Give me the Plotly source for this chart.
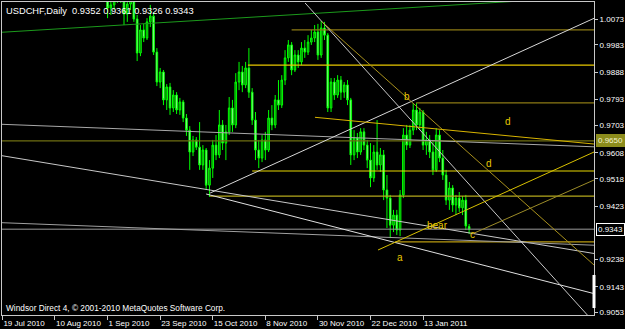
import plotly.graph_objects as go

header_text = "USDCHF,Daily  0.9352 0.9361 0.9326 0.9343"
copyright_text = "Windsor Direct 4, \u00a9 2001-2010 MetaQuotes Software Corp."

# ---- daily bars (bar index 0 = 19 Jul 2010) ----
opens = [1.0410,1.0452,1.0518,1.0541,1.0466,1.0428,1.0398,1.0468,1.0489,1.0455,1.0436,1.0372,1.0351,1.0438,1.0412,1.0368,
         1.0427,1.0488,1.0562,1.0503,1.0446,1.0382,1.0343,1.0291,1.0214,1.0242,1.0189,1.0263,1.0236,1.0271,1.0247,1.0203,
         1.0165,1.0111,1.0122,1.0139,1.0167,1.0149,1.0090,1.0125,1.0146,1.0073,0.9955,1.0035,1.0007,1.0063,1.0083,0.9958,
         0.9854,0.9889,0.9792,0.9837,0.9764,0.9809,0.9757,0.9785,0.9729,0.9687,0.9611,0.9653,0.9628,0.9566,0.9618,0.9496,
         0.9555,0.9635,0.9601,0.9705,0.9642,0.9681,0.9764,0.9705,0.9854,0.9889,0.9844,0.9903,0.9819,0.9722,0.9618,0.9590,
         0.9653,0.9618,0.9729,0.9705,0.9792,0.9774,0.9861,0.9938,0.9983,0.9896,0.9948,0.9924,0.9972,0.9958,0.9993,1.0007,
         1.0028,0.9948,1.0042,1.0017,0.9764,0.9854,0.9809,0.9861,0.9819,0.9844,0.9792,0.9601,0.9660,0.9611,0.9681,0.9635,
         0.9583,0.9521,0.9611,0.9566,0.9601,0.9479,0.9451,0.9357,0.9392,0.9340,0.9462,0.9670,0.9635,0.9687,0.9757,0.9705,
         0.9750,0.9635,0.9653,0.9611,0.9549,0.9670,0.9590,0.9531,0.9444,0.9486,0.9427,0.9451,0.9417,0.9444,0.9352]
highs = [1.0465,1.0530,1.0575,1.0560,1.0480,1.0440,1.0480,1.0505,1.0500,1.0470,1.0450,1.0390,1.0450,1.0450,1.0420,1.0440,
         1.0500,1.0590,1.0580,1.0520,1.0460,1.0400,1.0355,1.0300,1.0260,1.0250,1.0275,1.0280,1.0290,1.0285,1.0260,1.0215,
         1.0180,1.0139,1.0167,1.0191,1.0181,1.0160,1.0146,1.0167,1.0160,1.0087,1.0052,1.0056,1.0076,1.0122,1.0097,0.9972,
         0.9903,0.9896,0.9847,0.9851,0.9826,0.9819,0.9799,0.9792,0.9743,0.9701,0.9667,0.9663,0.9715,0.9635,0.9625,0.9583,
         0.9653,0.9670,0.9757,0.9722,0.9705,0.9802,0.9792,0.9885,0.9924,0.9910,0.9924,0.9972,0.9833,0.9750,0.9653,0.9670,
         0.9681,0.9757,0.9774,0.9809,0.9861,0.9878,0.9965,1.0000,0.9993,0.9965,0.9965,0.9993,1.0000,1.0017,1.0035,1.0052,
         1.0056,1.0066,1.0063,1.0024,0.9868,0.9868,0.9878,0.9875,0.9854,0.9861,0.9799,0.9687,0.9677,0.9694,0.9694,0.9653,
         0.9642,0.9635,0.9722,0.9625,0.9618,0.9531,0.9462,0.9410,0.9410,0.9479,0.9694,0.9705,0.9705,0.9781,0.9781,0.9764,
         0.9757,0.9681,0.9670,0.9653,0.9694,0.9687,0.9618,0.9549,0.9507,0.9496,0.9462,0.9472,0.9458,0.9462,0.9361]
lows = [1.0395,1.0440,1.0500,1.0450,1.0415,1.0380,1.0390,1.0455,1.0440,1.0425,1.0360,1.0335,1.0340,1.0400,1.0355,1.0360,
        1.0420,1.0480,1.0490,1.0430,1.0370,1.0330,1.0280,1.0200,1.0205,1.0175,1.0180,1.0225,1.0230,1.0235,1.0195,1.0145,
        1.0076,1.0087,1.0104,1.0129,1.0129,1.0052,1.0063,1.0104,1.0063,0.9927,0.9944,0.9993,1.0000,1.0045,0.9948,0.9840,
        0.9833,0.9774,0.9757,0.9740,0.9750,0.9743,0.9740,0.9715,0.9667,0.9549,0.9597,0.9618,0.9549,0.9549,0.9479,0.9455,
        0.9521,0.9583,0.9590,0.9618,0.9583,0.9670,0.9681,0.9694,0.9826,0.9819,0.9833,0.9799,0.9705,0.9583,0.9555,0.9576,
        0.9583,0.9611,0.9687,0.9694,0.9757,0.9764,0.9844,0.9924,0.9878,0.9889,0.9903,0.9913,0.9938,0.9948,0.9983,0.9993,
        0.9931,0.9938,1.0000,0.9750,0.9750,0.9792,0.9799,0.9792,0.9799,0.9774,0.9566,0.9583,0.9590,0.9601,0.9618,0.9555,
        0.9489,0.9507,0.9549,0.9542,0.9444,0.9347,0.9312,0.9333,0.9323,0.9319,0.9451,0.9618,0.9625,0.9670,0.9687,0.9687,
        0.9618,0.9601,0.9590,0.9531,0.9542,0.9576,0.9514,0.9427,0.9410,0.9403,0.9392,0.9403,0.9392,0.9340,0.9326]
closes = [1.0452,1.0518,1.0541,1.0466,1.0428,1.0398,1.0468,1.0489,1.0455,1.0436,1.0372,1.0351,1.0438,1.0412,1.0368,1.0427,
          1.0488,1.0562,1.0503,1.0446,1.0382,1.0343,1.0291,1.0214,1.0242,1.0189,1.0263,1.0236,1.0271,1.0247,1.0203,1.0165,
          1.0111,1.0122,1.0139,1.0167,1.0149,1.0090,1.0125,1.0146,1.0073,0.9955,1.0035,1.0007,1.0063,1.0083,0.9958,0.9854,
          0.9889,0.9792,0.9837,0.9764,0.9809,0.9757,0.9785,0.9729,0.9687,0.9611,0.9653,0.9628,0.9566,0.9618,0.9496,0.9555,
          0.9635,0.9601,0.9705,0.9642,0.9681,0.9764,0.9705,0.9854,0.9889,0.9844,0.9903,0.9819,0.9722,0.9618,0.9590,0.9653,
          0.9618,0.9729,0.9705,0.9792,0.9774,0.9861,0.9938,0.9983,0.9896,0.9948,0.9924,0.9972,0.9958,0.9993,1.0007,1.0028,
          0.9948,1.0042,1.0017,0.9764,0.9854,0.9809,0.9861,0.9819,0.9844,0.9792,0.9601,0.9660,0.9611,0.9681,0.9635,0.9583,
          0.9521,0.9611,0.9566,0.9601,0.9479,0.9451,0.9357,0.9392,0.9340,0.9462,0.9670,0.9635,0.9687,0.9757,0.9705,0.9750,
          0.9635,0.9653,0.9611,0.9549,0.9670,0.9590,0.9531,0.9444,0.9486,0.9427,0.9451,0.9417,0.9444,0.9354,0.9343]
bar_index = list(range(len(closes)))

# ---- axes ----
date_tick_index = [0, 16, 32, 48, 64, 80, 96, 112, 128]
date_tick_text = ["19 Jul 2010", "10 Aug 2010", "1 Sep 2010", "23 Sep 2010", "15 Oct 2010",
                  "8 Nov 2010", "30 Nov 2010", "22 Dec 2010", "13 Jan 2011"]
price_ticks = [1.0073, 0.9983, 0.9888, 0.9793, 0.9703, 0.9608, 0.9518, 0.9423, 0.9238, 0.9143, 0.9053]
x_view = [-0.12, 180.0]
price_view = [0.90449, 1.01321]

# ---- horizontal level lines (start bar, price, colour) ----
level_start = [88.0, 74.7, 125.9, -2.0, 76.0, 63.2, 119.5]
level_price = [1.0035, 0.9913, 0.9782, 0.9650, 0.9545, 0.9458, 0.9299]
level_color = ["#8c7a14", "#e8c800", "#8c7a14", "#6e6e12", "#e8d800", "#b4a81c", "#b89a10"]

# ---- trend lines (bar0, price0, bar1, price1, colour) ----
trend_x0 = [-0.12, -0.12, -0.12, -0.12, 63.2, 62.0, 92.1, 97.2, 95.1, 114.3, 142.9]
trend_p0 = [1.0027, 0.97073, 0.95982, 0.93655, 0.94686, 0.94652, 1.01286, 1.00636, 0.97316, 0.92707, 0.93262]
trend_x1 = [157.5, 180.0, 180.0, 180.0, 180.0, 180.0, 178.8, 180.0, 180.0, 180.0, 180.0]
trend_p1 = [1.01355, 0.96291, 0.92585, 0.92873, 1.00754, 0.91192, 0.90345, 0.92186, 0.96388, 0.96110, 0.95138]
trend_color = ["#1c9a1c", "#a8a8a8", "#c8c8c8", "#a0a0a0", "#d8d8d8", "#e0e0e0", "#c8c8c8",
               "#a8901c", "#d8b400", "#d8c000", "#9c8c28"]

# ---- wave labels ----
wave_text = ["b", "d", "d", "a", "bear", "c"]
wave_x = [123.1, 153.9, 148.1, 121.0, 132.3, 142.9]
wave_p = [0.98055, 0.97187, 0.95728, 0.92463, 0.93575, 0.93262]

bid_price = 0.9343
marked_level = 0.9650
axis_marker = [0.9184, 0.9069]

small_font = dict(family="Liberation Sans", size=8, color="#ffffff")

fig = go.Figure()
fig.add_trace(go.Candlestick(
    x=bar_index, open=opens, high=highs, low=lows, close=closes,
    increasing=dict(line=dict(color="#00ff00", width=1), fillcolor="#0a7a0a"),
    decreasing=dict(line=dict(color="#00ff00", width=1), fillcolor="#b8f8b8"),
    whiskerwidth=0, showlegend=False, hoverinfo="skip"))

for s, p, c in zip(level_start, level_price, level_color):
    fig.add_trace(go.Scatter(x=[s, x_view[1] + 2], y=[p, p], mode="lines",
                             line=dict(color=c, width=1.2), showlegend=False, hoverinfo="skip"))

fig.add_trace(go.Scatter(x=[x_view[0] - 2, x_view[1] + 2], y=[bid_price, bid_price], mode="lines",
                         line=dict(color="#9a9a9a", width=1), showlegend=False, hoverinfo="skip"))

for x0, p0, x1, p1, c in zip(trend_x0, trend_p0, trend_x1, trend_p1, trend_color):
    fig.add_trace(go.Scatter(x=[x0, x1], y=[p0, p1], mode="lines",
                             line=dict(color=c, width=1), showlegend=False, hoverinfo="skip"))

for t, x, p in zip(wave_text, wave_x, wave_p):
    fig.add_annotation(x=x, y=p, text=t, showarrow=False, xanchor="center", yanchor="middle",
                       font=dict(family="Liberation Sans", size=10, color="#e8c800"))

fig.add_annotation(xref="paper", yref="paper", x=0, y=1, xanchor="left", yanchor="top",
                   xshift=2, yshift=-2, text=header_text, showarrow=False,
                   font=dict(family="Liberation Sans", size=9.3, color="#ffffff"))
fig.add_annotation(xref="paper", yref="paper", x=0, y=0, xanchor="left", yanchor="bottom",
                   xshift=2, yshift=0, text=copyright_text, showarrow=False,
                   font=dict(family="Liberation Sans", size=8.3, color="#ffffff"))

fig.add_annotation(xref="paper", y=bid_price, x=1, xanchor="left", yanchor="middle", xshift=2,
                   text=f"{bid_price:.4f}", showarrow=False, bgcolor="#000000",
                   bordercolor="#ffffff", borderwidth=1, borderpad=1, font=small_font)
fig.add_annotation(xref="paper", y=marked_level, x=1, xanchor="left", yanchor="middle", xshift=2,
                   text=f"{marked_level:.4f}", showarrow=False, bgcolor="#8c8c1c",
                   bordercolor="#8c8c1c", borderwidth=1, borderpad=1,
                   font=dict(family="Liberation Sans", size=8, color="#f4f4d0"))
fig.add_shape(type="line", xref="paper", x0=1, x1=1, y0=axis_marker[0], y1=axis_marker[1],
              line=dict(color="#ffffff", width=3))

fig.update_layout(
    width=625, height=329, margin=dict(l=2, r=31, t=2, b=14, autoexpand=False),
    paper_bgcolor="#000000", plot_bgcolor="#000000",
    xaxis=dict(range=x_view, tickmode="array", tickvals=date_tick_index, ticktext=date_tick_text,
               ticks="outside", ticklen=4, tickcolor="#c8c8c8", ticklabelposition="outside right",
               tickangle=0, automargin=False, tickfont=small_font,
               showgrid=False, zeroline=False, showline=True, linecolor="#c8c8c8", mirror=True,
               rangeslider=dict(visible=False), fixedrange=True),
    yaxis=dict(range=price_view, side="right", tickmode="array", tickvals=price_ticks,
               ticktext=[f"{v:.4f}" for v in price_ticks], ticks="outside", ticklen=3,
               tickcolor="#c8c8c8", tickfont=small_font,
               showgrid=False, zeroline=False, showline=True, linecolor="#c8c8c8", mirror=True,
               automargin=False, fixedrange=True),
)

fig.write_html("out.html")
